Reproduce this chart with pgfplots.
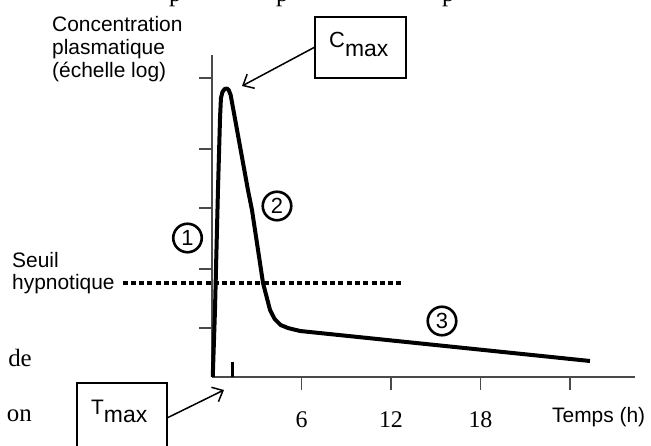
\documentclass[border=0pt]{standalone}
\usepackage{fontspec}
\setmainfont{Liberation Serif}
\newfontfamily\sansfont{Liberation Sans}
\usepackage{pgfplots}
\pgfplotsset{compat=1.18}
\usetikzlibrary{arrows.meta}
\definecolor{axisgray}{HTML}{4A4A4A}

% plasma concentration (drawn on a log-like scale), time in hours
\pgfplotstableread{
t      h
0.05   0
0.20   67
0.40   187
0.54   260
0.60   279
0.70   285
0.85   288
1.00   288.5
1.12   287
1.25   282
1.41   269
2.41   187
2.68   167
3.42   94
3.89   67
4.20   58
4.60   52
5.09   49
5.90   46
25.34  16
}\conc

\begin{document}
\begin{tikzpicture}[x=1bp,y=1bp]
\begin{axis}[
  scale only axis, width=423bp, height=322bp,
  xmin=0, xmax=28.36, ymin=0, ymax=322,
  enlargelimits=false, clip=false,
  axis lines=left,
  axis line style={-, axisgray, line width=1.5bp},
  tick align=outside, major tick length=13bp,
  tick style={axisgray, line width=1.5bp},
  xtick={6,12,18,24}, xticklabels={6,12,18,{}},
  ytick={49,108,169,228,299}, yticklabels={},
  /pgf/number format/assume math mode=true,
  xticklabel style={font=\fontsize{24}{24}\selectfont, anchor=base, yshift=-37bp},
]
  % hypnotic threshold
  \addplot[black, line width=4.5bp, dash pattern=on 5bp off 3.3bp] coordinates {(-6.0,94) (12.8,94)};
  % concentration curve
  \addplot[black, line width=4bp, line join=round] table[x=t, y=h] {\conc};
  % Tmax marker on the time axis
  \addplot[black, line width=3.3bp] coordinates {(1.36,0) (1.36,15)};
  \coordinate (O) at (axis cs:0,0);
\end{axis}

% page frame: the time origin sits 212bp from the left and 69bp from the bottom
\begin{scope}[shift={(O)}, xshift=-212bp, yshift=-69bp]
\pgfresetboundingbox
\useasboundingbox (0,0) rectangle (651,446);
\clip (0,0) rectangle (651,446);

% fragments of the surrounding page text
\node[anchor=base west, inner sep=0, font=\fontsize{25}{25}\selectfont] at (169,444.5) {p};
\node[anchor=base west, inner sep=0, font=\fontsize{25}{25}\selectfont] at (276,444.5) {p};
\node[anchor=base west, inner sep=0, font=\fontsize{25}{25}\selectfont] at (442,444.5) {p};
\node[anchor=base east, inner sep=0, font=\fontsize{25}{25}\selectfont] at (32,79) {de};
\node[anchor=base east, inner sep=0, font=\fontsize{25}{25}\selectfont] at (32,24) {on};

% axis titles
\begin{scope}[every node/.style={anchor=base west, inner sep=0, font=\sansfont\fontsize{21}{21}\selectfont}]
  \node at (52,414) {Concentration};
  \node at (52,391) {plasmatique};
  \node at (52,368) {(échelle log)};
  \node at (12,178) {Seuil};
  \node at (12,156) {hypnotique};
  \node at (552,23) {Temps (h)};
\end{scope}

% phase numbers
\begin{scope}[every node/.style={circle, draw, line width=2.6bp, minimum size=28.5bp, inner sep=0, font=\sansfont\fontsize{22}{22}\selectfont}]
  \node at (187.5,208) {1};
  \node at (277,240) {2};
  \node at (442,125) {3};
\end{scope}

% Cmax label
\draw[line width=1.3bp] (315,368) rectangle (406,429);
\node[anchor=base west, inner sep=0, font=\sansfont\fontsize{22}{22}\selectfont] at (329,398)
  {C\raisebox{-9bp}{\fontsize{23}{23}\selectfont max}};
\draw[line width=1.5bp, -{Straight Barb[length=9bp, width=16bp]}] (315,399) -- (242,360);

% Tmax label
\draw[line width=1.3bp] (77,-5) rectangle (167,63);
\node[anchor=base west, inner sep=0, font=\sansfont\fontsize{21}{21}\selectfont] at (91,31)
  {T\raisebox{-8bp}{\fontsize{23}{23}\selectfont max}};
\draw[line width=1.5bp, -{Straight Barb[length=9bp, width=16bp]}] (167,28) -- (224,56);
\end{scope}
\end{tikzpicture}
\end{document}
